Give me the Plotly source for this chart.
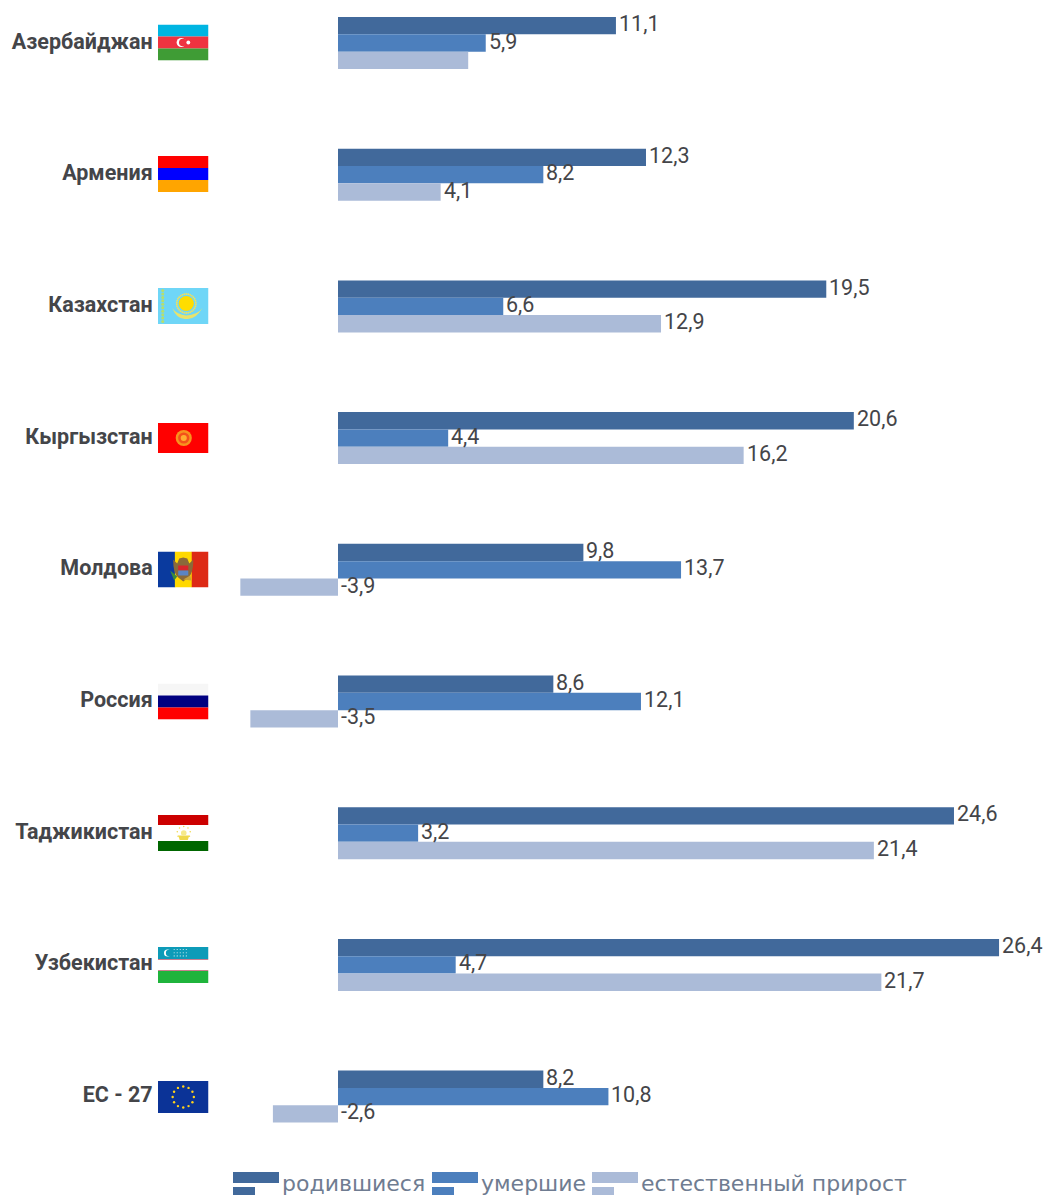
import base64
import math
import plotly.graph_objects as go

# ---------- data ----------
countries = ["Азербайджан", "Армения", "Казахстан", "Кыргызстан", "Молдова",
             "Россия", "Таджикистан", "Узбекистан", "ЕС - 27"]
births = [11.1, 12.3, 19.5, 20.6, 9.8, 8.6, 24.6, 26.4, 8.2]
deaths = [5.9, 8.2, 6.6, 4.4, 13.7, 12.1, 3.2, 4.7, 10.8]
natural = [5.2, 4.1, 12.9, 16.2, -3.9, -3.5, 21.4, 21.7, -2.6]
series_names = ["родившиеся", "умершие", "естественный прирост"]
series_colors = ["#41699b", "#4c7fbd", "#abbbd8"]
series_values = [births, deaths, natural]
hidden_labels = {(2, 0)}  # series, country: the reference prints no label here

# ---------- layout constants (pixels of the 1047x1195 page) ----------
W, H = 1047, 1195
ZERO_X, PX_PER_UNIT = 338.0, 25.04
PLOT_LEFT = 209
FIRST_Y, STEP_Y = 43.0, 131.7
GROUP_PX = 52.0
TEXT = "#444549"


def px_x(px):
    return (px - PLOT_LEFT) / (W - PLOT_LEFT)


def px_y(py):
    return 1 - py / H


# ---------- flags (decoration) ----------
def svg_uri(body, w=50, h=36):
    svg = (f'<svg xmlns="http://www.w3.org/2000/svg" width="{w*4}" height="{h*4}" '
           f'viewBox="0 0 {w} {h}" preserveAspectRatio="none">{body}</svg>')
    return "data:image/svg+xml;base64," + base64.b64encode(svg.encode()).decode()


def stripes_h(colors, w=50, h=36):
    out, y = "", 0.0
    total = sum(c[1] for c in colors)
    for col, part in colors:
        ph = h * part / total
        out += f'<rect x="0" y="{y:.2f}" width="{w}" height="{ph + 0.05:.2f}" fill="{col}"/>'
        y += ph
    return out


def circle(cx, cy, r, fill, extra=""):
    return f'<circle cx="{cx}" cy="{cy}" r="{r}" fill="{fill}" {extra}/>'


def ring_dots(cx, cy, r, n, dot, fill):
    s = ""
    for k in range(n):
        a = 2 * math.pi * k / n
        s += circle(round(cx + r * math.sin(a), 2), round(cy - r * math.cos(a), 2), dot, fill)
    return s


az = stripes_h([("#00b5e2", 1), ("#ef3340", 1), ("#3f9c35", 1)]) + \
    circle(23, 18, 4.6, "#fff") + circle(24.6, 18, 3.8, "#ef3340") + circle(30, 18, 1.9, "#fff")
am = stripes_h([("#ff0000", 1), ("#0000ff", 1), ("#ffa500", 1)])
kz = '<rect width="50" height="36" fill="#6fd6f7"/>' + \
    "".join(circle(4.7, 2.5 + 3.45 * k, 1.5, "#b6df6e") for k in range(10)) + \
    ring_dots(28, 15.5, 9.5, 30, 0.9, "#f2e15c") + circle(28, 15.5, 7.5, "#ffdd00") + \
    '<path d="M14 20 Q19 32 28 31 Q37 32 44 20 Q39 27 28 27.5 Q19 27 14 20Z" fill="#e9e36c"/>'
kg = '<rect width="50" height="30" fill="#ff0000"/>' + \
    circle(25.5, 15, 8, "#f7931e") + circle(25.5, 15, 5.6, "#f4511a") + circle(25.5, 15, 3, "#ffae30")
md = '<rect width="17" height="36" fill="#0a3a9e"/><rect x="16.7" width="17" height="36" fill="#ffd800"/>' \
     '<rect x="33.4" width="16.6" height="36" fill="#dd2a15"/>' \
     '<path d="M15 8 Q15 22 20 26 L25 30 L30 26 Q35 22 35 8 L31 12 L29 7 L25 6 L21 7 L19 12Z" fill="#8a6a3a"/>' \
     '<rect x="20" y="14" width="10" height="5" fill="#d8262c"/><rect x="20" y="19" width="10" height="5" fill="#5b84c4"/>' \
     '<path d="M12 19 L19 25 L16 29Z" fill="#3c8a3c"/><path d="M25 28 L32 24 L33 29Z" fill="#c9a23a"/>'
ru = stripes_h([("#f6f6f6", 1), ("#000080", 1), ("#ff0000", 1)])
tj = stripes_h([("#cc0000", 10), ("#ffffff", 16), ("#006600", 10)]) + \
    ring_dots(25.5, 18, 6.5, 9, 0.75, "#efd84a") + '<path d="M20 20.5 H31 L29.5 25 H21.5Z" fill="#efd84a"/>' + \
    circle(25.5, 18, 2.8, "#f6e98a")
uz = '<rect width="50" height="36" fill="#fff"/><rect width="50" height="12" fill="#0d9bb8"/>' \
     '<rect y="12" width="50" height="1" fill="#c97f8f"/><rect y="23" width="50" height="1" fill="#c97f8f"/>' \
     '<rect y="24" width="50" height="12" fill="#1fb43c"/>' + \
    circle(9.5, 6, 3.6, "#fff") + circle(11, 6, 3.2, "#0d9bb8") + \
    "".join(circle(16 + 3 * a, 2.5 + 3.2 * b, 0.55, "#e8f6f8") for a in range(5) for b in range(3))
eu = '<rect width="50" height="32" fill="#0b3397"/>' + ring_dots(25, 16, 10.5, 12, 1.2, "#ffd21a")

flags = [(az, 50, 36, 24.5), (am, 50, 36, 156), (kz, 50, 36, 288), (kg, 50, 30, 423),
         (md, 50, 36, 551.5), (ru, 50, 36, 683.5), (tj, 50, 36, 815), (uz, 50, 36, 947), (eu, 50, 32, 1081)]

images = [dict(source=svg_uri(body, w, h), xref="paper", yref="paper", xanchor="left", yanchor="top",
               x=px_x(158), y=px_y(top), sizex=50.5 / (W - PLOT_LEFT), sizey=h / H, sizing="stretch", layer="above")
          for body, w, h, top in flags]

# ---------- figure ----------
fig = go.Figure()
y_pos = list(range(len(countries)))
for name, color, vals in zip(series_names, series_colors, series_values):
    fig.add_trace(go.Bar(y=y_pos, x=vals, name=name, orientation="h", marker=dict(color=color, line_width=0),
                         showlegend=False))

bar_step = GROUP_PX / 3 / STEP_Y
annotations = []
for s, vals in enumerate(series_values):
    for i, v in enumerate(vals):
        if (s, i) in hidden_labels:
            continue
        annotations.append(dict(x=max(v, 0), y=i + (s - 1) * bar_step, xref="x", yref="y",
                                text=f"{v:.1f}".replace(".", ","), showarrow=False,
                                xanchor="left", yanchor="middle", xshift=1, yshift=2,
                                font=dict(family="Roboto", size=21.5, color=TEXT)))

# custom legend: each key is a long bar above a short, page-clipped bar
legend_x = [233, 432, 592]
shapes = []
for lx, name, color in zip(legend_x, series_names, series_colors):
    shapes.append(dict(type="rect", xref="paper", yref="paper", x0=px_x(lx), x1=px_x(lx + 46),
                       y0=px_y(1183), y1=px_y(1172), fillcolor=color, line_width=0))
    shapes.append(dict(type="rect", xref="paper", yref="paper", x0=px_x(lx), x1=px_x(lx + 22),
                       y0=px_y(1195), y1=px_y(1187), fillcolor=color, line_width=0))
    annotations.append(dict(x=px_x(lx + 47), y=px_y(1183), xref="paper", yref="paper", text=name,
                            showarrow=False, xanchor="left", yanchor="middle",
                            font=dict(family="DejaVu Sans", size=22, color="#6f7c91")))

fig.update_layout(
    width=W, height=H, margin=dict(l=PLOT_LEFT, r=0, t=0, b=0, autoexpand=False),
    paper_bgcolor="#ffffff", plot_bgcolor="rgba(0,0,0,0)",
    barmode="group", bargap=1 - GROUP_PX / STEP_Y, bargroupgap=0,
    shapes=shapes, annotations=annotations, images=images,
    xaxis=dict(range=[(PLOT_LEFT - ZERO_X) / PX_PER_UNIT, (W - ZERO_X) / PX_PER_UNIT],
               visible=False, fixedrange=True),
    yaxis=dict(range=[(H - FIRST_Y) / STEP_Y, -FIRST_Y / STEP_Y], tickmode="array",
               tickvals=[p - 2 / STEP_Y for p in y_pos],
               ticktext=countries, showgrid=False, zeroline=False, showline=False, ticks="outside", ticklen=51,
               tickcolor="rgba(0,0,0,0)", tickfont=dict(family="Roboto", size=21.5, color=TEXT, weight=700),
               fixedrange=True),
)

fig.write_html("out.html", config=dict(displayModeBar=False),
               post_script="document.body.style.margin='0';document.documentElement.style.overflow='hidden';")
